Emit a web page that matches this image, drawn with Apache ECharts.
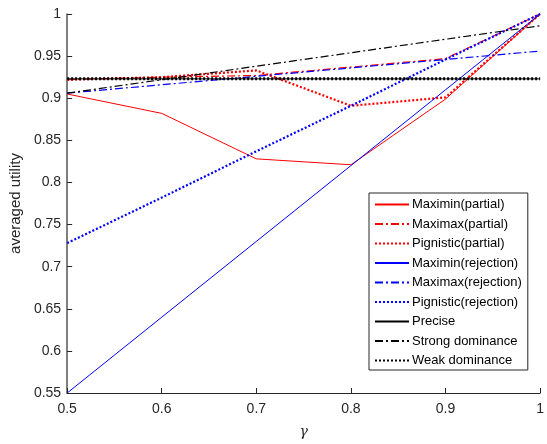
<!DOCTYPE html>
<html>
<head>
<meta charset="utf-8">
<script src="https://cdn.jsdelivr.net/npm/echarts@6/dist/echarts.min.js"></script>
<style>html,body{margin:0;padding:0;background:#fff;}#chart{width:547px;height:444px;}</style>
</head>
<body>
<div id="chart"></div>
<script>
var gammaValues = [0.5, 0.6, 0.7, 0.8, 0.9, 1.0];
var xTickLabels = ['0.5', '0.6', '0.7', '0.8', '0.9', '1'];
var maximinPartial = [0.905, 0.882, 0.828, 0.821, 0.899, 1.0];
var maximaxPartial = [0.922, 0.925, 0.927, 0.937, 0.947, 1.0];
var pignisticPartial = [0.922, 0.925, 0.933, 0.891, 0.901, 1.0];
var maximinRejection = [0.55, 0.64, 0.73, 0.82, 0.91, 1.0];
var maximaxRejection = [0.906, 0.916, 0.926, 0.936, 0.946, 0.956];
var pignisticRejection = [0.728, 0.782, 0.837, 0.891, 0.946, 1.0];
var precise = [0.923, 0.923, 0.923, 0.923, 0.923, 0.923];
var strongDominance = [0.906, 0.922, 0.938, 0.954, 0.970, 0.986];
var weakDominance = [0.923, 0.923, 0.923, 0.923, 0.923, 0.923];

function pairs(arr) { return gammaValues.map(function (g, i) { return [g, arr[i]]; }); }

var DOT = [2, 2];
var DASHDOT = [8, 3, 2, 3];
function mk(name, arr, color, width, type, z) {
  return {
    name: name, type: 'line', data: pairs(arr), symbol: 'none', z: z,
    lineStyle: { color: color, width: width, type: type },
    itemStyle: { color: color }
  };
}

var series = [
  mk('Maximin(partial)', maximinPartial, '#ff0000', 1, 'solid', 2),
  mk('Maximax(partial)', maximaxPartial, '#ff0000', 1.2, DASHDOT, 2),
  mk('Pignistic(partial)', pignisticPartial, '#ff0000', 2.2, DOT, 2),
  mk('Maximin(rejection)', maximinRejection, '#0000ff', 1, 'solid', 3),
  mk('Maximax(rejection)', maximaxRejection, '#0000ff', 1.2, DASHDOT, 3),
  mk('Pignistic(rejection)', pignisticRejection, '#0000ff', 2.2, DOT, 3),
  mk('Precise', precise, '#000000', 1, 'solid', 4),
  mk('Strong dominance', strongDominance, '#000000', 1.2, DASHDOT, 4),
  mk('Weak dominance', weakDominance, '#000000', 3, DOT, 5)
];

var chart = echarts.init(document.getElementById('chart'), null, { renderer: 'canvas' });
var font = 'Liberation Sans, Arial, Helvetica, sans-serif';
chart.setOption({
  animation: false,
  backgroundColor: '#ffffff',
  grid: { left: 60, right: 4, top: 14, bottom: 50 },
  xAxis: {
    type: 'value', min: 0.5, max: 1, interval: 0.1,
    name: 'γ', nameLocation: 'middle', nameGap: 32,
    nameTextStyle: { fontFamily: 'DejaVu Serif, serif', fontStyle: 'italic', fontSize: 14, color: '#262626' },
    axisLine: { lineStyle: { color: '#262626', width: 1 } },
    axisTick: { inside: true, length: 5, lineStyle: { color: '#262626' } },
    axisLabel: { color: '#262626', fontSize: 14, fontFamily: font, margin: 9,
      formatter: function (v) { var i = gammaValues.findIndex(function (g) { return Math.abs(g - v) < 1e-6; }); return i >= 0 ? xTickLabels[i] : ''; } },
    splitLine: { show: false }
  },
  yAxis: {
    type: 'value', min: 0.55, max: 1, interval: 0.05,
    name: 'averaged utility', nameLocation: 'middle', nameGap: 39,
    nameTextStyle: { fontFamily: font, fontSize: 15, color: '#262626' },
    axisLine: { show: true, lineStyle: { color: '#555555', width: 1.5 } },
    axisTick: { show: true, inside: true, length: 5, lineStyle: { color: '#262626' } },
    axisLabel: { color: '#262626', fontSize: 14, fontFamily: font, margin: 6,
      formatter: function (v) { return String(parseFloat(v.toFixed(2))); } },
    splitLine: { show: false }
  },
  legend: {
    orient: 'vertical', left: 369, top: 193,
    padding: [5, 6, 3, 5],
    itemWidth: 34, itemHeight: 12, itemGap: 6.5,
    backgroundColor: '#ffffff', borderColor: '#262626', borderWidth: 1,
    itemStyle: { opacity: 0 },
    textStyle: { color: '#000000', fontSize: 13, fontFamily: font, padding: [0, 0, 0, -2] },
    data: series.map(function (s) { return s.name; })
  },
  series: series
});
</script>
</body>
</html>
